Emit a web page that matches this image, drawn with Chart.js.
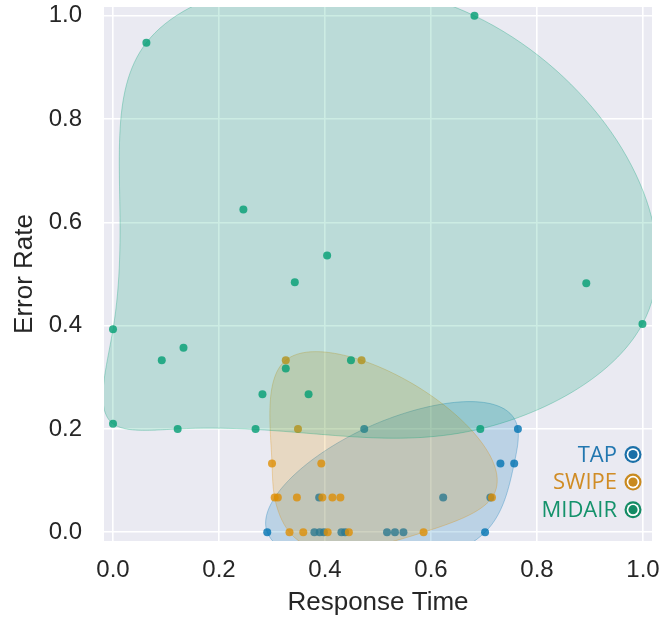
<!DOCTYPE html>
<html>
<head>
<meta charset="utf-8">
<script src="https://cdn.jsdelivr.net/npm/chart.js@4.4.0/dist/chart.umd.min.js"></script>
<style>
  html, body { margin: 0; padding: 0; background: #fff; }
</style>
</head>
<body>
<canvas id="chart" width="662" height="620"></canvas>
<script>
// groups and their points (response time, error rate)
const seriesNames = ['TAP', 'SWIPE', 'MIDAIR'];

const tapX = [0.291, 0.380, 0.390, 0.398, 0.431, 0.438, 0.517, 0.532, 0.548, 0.702,
              0.389, 0.623, 0.712, 0.731, 0.757, 0.474, 0.764];
const tapY = [0, 0, 0, 0, 0, 0, 0, 0, 0, 0,
              0.067, 0.067, 0.067, 0.133, 0.133, 0.2, 0.2];

const swipeX = [0.333, 0.359, 0.405, 0.445, 0.586, 0.305, 0.311, 0.347, 0.395, 0.414,
                0.429, 0.715, 0.300, 0.393, 0.349, 0.326, 0.469];
const swipeY = [0, 0, 0, 0, 0, 0.067, 0.067, 0.067, 0.067, 0.067,
                0.067, 0.067, 0.133, 0.133, 0.2, 0.333, 0.333];

const midairX = [0.0, 0.0, 0.063, 0.092, 0.122, 0.133, 0.246, 0.269, 0.282, 0.326,
                 0.343, 0.369, 0.404, 0.449, 0.682, 0.693, 0.893, 0.999];
const midairY = [0.21, 0.393, 0.948, 0.333, 0.2, 0.357, 0.625, 0.2, 0.267, 0.317,
                 0.484, 0.267, 0.536, 0.333, 1.0, 0.2, 0.482, 0.403];

const xTicks = [0.0, 0.2, 0.4, 0.6, 0.8, 1.0];
const yTicks = [0.0, 0.2, 0.4, 0.6, 0.8, 1.0];

const palette = ['#0173b2', '#de8f05', '#029e73'];
const legendText = ['#2277b0', '#d08c25', '#14926b'];
const legendDot = ['#1b70a8', '#c98a1f', '#138b64'];

function rgba(hex, a) {
    const n = parseInt(hex.slice(1), 16);
    return `rgba(${n >> 16},${(n >> 8) & 255},${n & 255},${a})`;
}

function convexHull(pts) {
    const p = pts.slice().sort((a, b) => a[0] - b[0] || a[1] - b[1]);
    const cross = (o, a, b) => (a[0] - o[0]) * (b[1] - o[1]) - (a[1] - o[1]) * (b[0] - o[0]);
    const lower = [], upper = [];
    for (const q of p) {
        while (lower.length >= 2 && cross(lower[lower.length - 2], lower[lower.length - 1], q) <= 0) lower.pop();
        lower.push(q);
    }
    for (let i = p.length - 1; i >= 0; i--) {
        const q = p[i];
        while (upper.length >= 2 && cross(upper[upper.length - 2], upper[upper.length - 1], q) <= 0) upper.pop();
        upper.push(q);
    }
    return lower.slice(0, -1).concat(upper.slice(0, -1));
}

function solveLinear(A, b) {
    const n = b.length;
    for (let c = 0; c < n; c++) {
        let p = c;
        for (let r = c + 1; r < n; r++) if (Math.abs(A[r][c]) > Math.abs(A[p][c])) p = r;
        [A[c], A[p]] = [A[p], A[c]];
        [b[c], b[p]] = [b[p], b[c]];
        for (let r = c + 1; r < n; r++) {
            const f = A[r][c] / A[c][c];
            for (let k = c; k < n; k++) A[r][k] -= f * A[c][k];
            b[r] -= f * b[c];
        }
    }
    const x = new Array(n).fill(0);
    for (let r = n - 1; r >= 0; r--) {
        let s = b[r];
        for (let k = r + 1; k < n; k++) s -= A[r][k] * x[k];
        x[r] = s / A[r][r];
    }
    return x;
}

// periodic cubic spline through hull vertices, chord-length parameter
function closedSpline(pts, steps) {
    const n = pts.length;
    const t = [0];
    for (let i = 0; i < n; i++) {
        const a = pts[i], b = pts[(i + 1) % n];
        t.push(t[i] + Math.hypot(b[0] - a[0], b[1] - a[1]));
    }
    const h = i => t[i + 1] - t[i];
    function moments(vals) {
        const A = [...Array(n)].map(() => new Array(n).fill(0));
        const r = new Array(n).fill(0);
        for (let i = 0; i < n; i++) {
            const im = (i - 1 + n) % n, ip = (i + 1) % n;
            const hp = h(im), hi = h(i);
            A[i][im] += hp;
            A[i][i] += 2 * (hp + hi);
            A[i][ip] += hi;
            r[i] = 6 * ((vals[ip] - vals[i]) / hi - (vals[i] - vals[im]) / hp);
        }
        return solveLinear(A, r);
    }
    const xs = pts.map(p => p[0]), ys = pts.map(p => p[1]);
    const mx = moments(xs), my = moments(ys);
    const out = [];
    for (let i = 0; i < n; i++) {
        const ip = (i + 1) % n, hi = h(i);
        for (let k = 0; k < steps; k++) {
            const a = hi * (1 - k / steps), b = hi * k / steps;
            const f = (v, m) => m[i] * a * a * a / (6 * hi) + m[ip] * b * b * b / (6 * hi)
                + (v[i] / hi - m[i] * hi / 6) * a + (v[ip] / hi - m[ip] * hi / 6) * b;
            out.push([f(xs, mx), f(ys, my)]);
        }
    }
    return out;
}

const groups = [
    { xs: tapX, ys: tapY },
    { xs: swipeX, ys: swipeY },
    { xs: midairX, ys: midairY }
];

const bgPlugin = {
    id: 'plotBg',
    beforeDraw(chart) {
        const { ctx, chartArea: a } = chart;
        ctx.save();
        ctx.fillStyle = '#eaeaf2';
        ctx.fillRect(a.left, a.top, a.right - a.left, a.bottom - a.top);
        ctx.restore();
    }
};

// hull blob drawn right after each group's points
const blobPlugin = {
    id: 'blobs',
    afterDatasetDraw(chart, args) {
        const i = args.index;
        const g = groups[i];
        const hull = convexHull(g.xs.map((x, j) => [x, g.ys[j]]));
        const curve = closedSpline(hull, 40);
        const { ctx, chartArea: a, scales } = chart;
        ctx.save();
        ctx.beginPath();
        ctx.rect(a.left, a.top, a.right - a.left, a.bottom - a.top);
        ctx.clip();
        ctx.beginPath();
        curve.forEach((p, k) => {
            const px = scales.x.getPixelForValue(p[0]);
            const py = scales.y.getPixelForValue(p[1]);
            if (k === 0) ctx.moveTo(px, py); else ctx.lineTo(px, py);
        });
        ctx.closePath();
        ctx.fillStyle = rgba(palette[i], 0.2);
        ctx.fill();
        ctx.strokeStyle = rgba(palette[i], 0.3);
        ctx.lineWidth = 1;
        ctx.stroke();
        ctx.restore();
    }
};

const legendPlugin = {
    id: 'cornerLegend',
    afterDraw(chart) {
        const { ctx, chartArea: a } = chart;
        ctx.save();
        ctx.font = '22px "Open Sans"';
        ctx.textAlign = 'right';
        ctx.textBaseline = 'middle';
        seriesNames.forEach((name, i) => {
            const y = a.bottom - 86.5 + i * 27.6;
            ctx.fillStyle = legendText[i];
            ctx.fillText(name, a.right - 35, y + 1);
            const cx = a.right - 19;
            ctx.beginPath(); ctx.arc(cx, y, 8.5, 0, Math.PI * 2);
            ctx.fillStyle = legendDot[i]; ctx.fill();
            ctx.beginPath(); ctx.arc(cx, y, 6.3, 0, Math.PI * 2);
            ctx.fillStyle = '#ffffff'; ctx.fill();
            ctx.beginPath(); ctx.arc(cx, y, 4.6, 0, Math.PI * 2);
            ctx.fillStyle = legendDot[i]; ctx.fill();
        });
        ctx.restore();
    }
};

const tickFont = { family: '"Liberation Sans", Arial, sans-serif', size: 24 };
const titleFont = { family: '"Liberation Sans", Arial, sans-serif', size: 26 };

const ctx = document.getElementById('chart').getContext('2d');
const chart = new Chart(ctx, {
    type: 'scatter',
    data: {
        datasets: groups.map((g, i) => ({
            label: seriesNames[i],
            data: g.xs.map((x, j) => ({ x: x, y: g.ys[j] })),
            backgroundColor: rgba(palette[i], 0.8),
            borderColor: rgba(palette[i], 0.8),
            borderWidth: 0,
            pointRadius: 4,
            order: 3 - i
        }))
    },
    options: {
        responsive: false,
        animation: false,
        layout: { padding: { top: 7, right: 10, left: 0, bottom: 0 } },
        plugins: { legend: { display: false }, tooltip: { enabled: false } },
        scales: {
            x: {
                type: 'linear',
                min: -0.017,
                max: 1.017,
                afterBuildTicks: s => { s.ticks = xTicks.map(v => ({ value: v })); },
                afterFit: s => { s.height = 79; s.paddingLeft = 0; s.paddingRight = 0; },
                grid: { color: '#ffffff', lineWidth: 1.6, drawTicks: false },
                border: { display: false },
                ticks: { color: '#262626', font: tickFont, padding: 15, callback: v => v.toFixed(1) },
                title: { display: true, text: 'Response Time', color: '#262626', font: titleFont,
                         padding: { top: 0, bottom: 2 } }
            },
            y: {
                type: 'linear',
                min: -0.017,
                max: 1.017,
                afterBuildTicks: s => { s.ticks = yTicks.map(v => ({ value: v })); },
                afterFit: s => { s.width = 104; s.paddingTop = 0; s.paddingBottom = 0; },
                grid: { color: '#ffffff', lineWidth: 1.6, drawTicks: false },
                border: { display: false },
                ticks: { color: '#262626', font: tickFont, padding: 22, callback: v => v.toFixed(1) },
                title: { display: true, text: 'Error Rate', color: '#262626', font: titleFont,
                         padding: { top: 9, bottom: 0 } }
            }
        }
    },
    plugins: [bgPlugin, blobPlugin, legendPlugin]
});
</script>
</body>
</html>
